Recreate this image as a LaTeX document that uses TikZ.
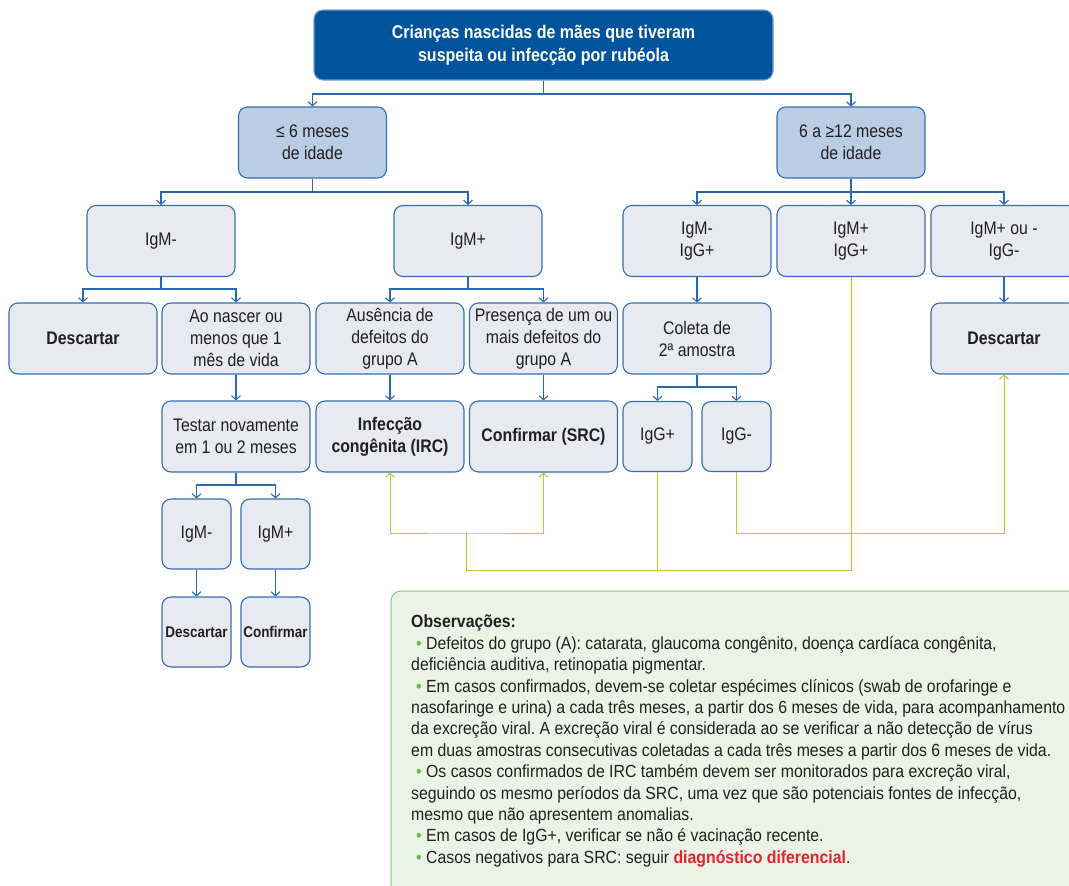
\documentclass[tikz,border=0pt]{standalone}
\usepackage{fontspec}
\setmainfont[FakeStretch=0.87]{Liberation Sans}
\newfontfamily\notefont[FakeStretch=0.9]{Liberation Sans}
\usetikzlibrary{arrows.meta}
\definecolor{topblue}{RGB}{0,84,158}
\definecolor{lvlblue}{RGB}{185,206,229}
\definecolor{boxgray}{RGB}{231,234,240}
\definecolor{edgeblue}{RGB}{52,110,178}
\definecolor{lineblue}{RGB}{40,105,175}
\definecolor{yel}{RGB}{212,190,40}
\definecolor{notefill}{RGB}{235,243,230}
\definecolor{noteedge}{RGB}{140,198,120}
\definecolor{txt}{RGB}{35,31,32}
\definecolor{bulgreen}{RGB}{100,185,70}
\definecolor{redtxt}{RGB}{228,35,45}
\frenchspacing
\begin{document}
\begin{tikzpicture}[x=1pt,y=-1pt,
  box/.style={draw=edgeblue, line width=1.1pt, fill=boxgray, rounded corners=9pt,
    minimum width=148pt, minimum height=71pt, align=center, inner sep=1pt,
    text=txt, font=\fontsize{18.2}{22}\selectfont},
  boldbox/.style={box, font=\fontsize{18.2}{22}\selectfont\bfseries},
  smallbox/.style={box, minimum width=69pt, minimum height=70pt},
  smallbold/.style={smallbox, font=\fontsize{15.5}{20}\selectfont\bfseries},
  lvlbox/.style={box, fill=lvlblue},
  topbox/.style={box, fill=topblue, draw=topblue!55!white, minimum width=459pt, minimum height=70pt,
    text=white, font=\fontsize{18.4}{22.5}\selectfont\bfseries},
  ln/.style={draw=lineblue, line width=1.1pt},
  conn/.style={ln, -{Straight Barb[length=4pt,width=9pt]}},
  yl/.style={draw=yel, line width=1pt},
  ytip/.style={yl, {Straight Barb[length=4pt,width=9pt]}-{Straight Barb[length=4pt,width=9pt]}},
  yend/.style={yl, -{Straight Barb[length=4pt,width=9pt]}}
]
\clip (0,0) rectangle (1069,886);
\fill[white] (0,0) rectangle (1069,886);

% nodes
\node[topbox] (top) at (543.5,45) {Crianças nascidas de mães que tiveram\\suspeita ou infecção por rubéola};
\node[lvlbox] (le6) at (312.5,142.5) {≤ 6 meses\\de idade};
\node[lvlbox] (ge12) at (851,142.5) {6 a ≥12 meses\\de idade};

\node[box] (IgMn) at (161,241) {IgM-};
\node[box] (IgMp) at (468,241) {IgM+};
\node[box] (IgMIgGp) at (697,241) {IgM-\\IgG+};
\node[box] (IgMpIgGp) at (851,241) {IgM+\\IgG+};
\node[box, minimum width=146pt] (IgMou) at (1004,241) {IgM+ ou -\\IgG-};

\node[boldbox] (Desc1) at (83,338.5) {Descartar};
\node[box] (Ao) at (236,338.5) {Ao nascer ou\\menos que 1\\mês de vida};
\node[box] (Aus) at (390,338.5) {Ausência de\\defeitos do\\grupo A};
\node[box] (Pres) at (543.5,338.5) {Presença de um ou\\mais defeitos do\\grupo A};
\node[box] (Coleta) at (697,338.5) {Coleta de\\2ª amostra};
\node[boldbox, minimum width=146pt] (Desc2) at (1004,338.5) {Descartar};

\node[box] (Testar) at (236,436.5) {Testar novamente\\em 1 ou 2 meses};
\node[boldbox] (Inf) at (390,436.5) {Infecção\\congênita (IRC)};
\node[boldbox] (Conf) at (543.5,436.5) {Confirmar (SRC)};
\node[smallbox] (IgGp) at (657.5,436.5) {IgG+};
\node[smallbox] (IgGn) at (736.5,436.5) {IgG-};

\node[smallbox] (sIgMn) at (196.5,534) {IgM-};
\node[smallbox] (sIgMp) at (275.5,534) {IgM+};
\node[smallbold] (sDesc) at (196.5,632) {Descartar};
\node[smallbold] (sConf) at (275.5,632) {Confirmar};

% junctions
\coordinate (jt) at (543.5,94);
\coordinate (j6) at (312.5,192);
\coordinate (j12) at (851,192);
\coordinate (jn) at (161,289);
\coordinate (jp) at (468,289);
\coordinate (jc) at (697,387);
\coordinate (jts) at (236,485);

% blue connectors
\draw[ln] (top.south) -- (jt);
\draw[conn] (jt) -| (le6.north);
\draw[conn] (jt) -| (ge12.north);
\draw[ln] (le6.south) -- (j6);
\draw[conn] (j6) -| (IgMn.north);
\draw[conn] (j6) -| (IgMp.north);
\draw[ln] (ge12.south) -- (j12);
\draw[conn] (j12) -| (IgMIgGp.north);
\draw[conn] (j12) -- (IgMpIgGp.north);
\draw[conn] (j12) -| (IgMou.north);
\draw[ln] (IgMn.south) -- (jn);
\draw[conn] (jn) -| (Desc1.north);
\draw[conn] (jn) -| (Ao.north);
\draw[ln] (IgMp.south) -- (jp);
\draw[conn] (jp) -| (Aus.north);
\draw[conn] (jp) -| (Pres.north);
\draw[conn] (IgMIgGp.south) -- (Coleta.north);
\draw[conn] (IgMou.south) -- (Desc2.north);
\draw[conn] (Ao.south) -- (Testar.north);
\draw[conn] (Aus.south) -- (Inf.north);
\draw[conn] (Pres.south) -- (Conf.north);
\draw[ln] (Coleta.south) -- (jc);
\draw[conn] (jc) -| (IgGp.north);
\draw[conn] (jc) -| (IgGn.north);
\draw[ln] (Testar.south) -- (jts);
\draw[conn] (jts) -| (sIgMn.north);
\draw[conn] (jts) -| (sIgMp.north);
\draw[conn] (sIgMn.south) -- (sDesc.north);
\draw[conn] (sIgMp.south) -- (sConf.north);

% yellow connectors
\coordinate (y1) at (466.5,533);
\coordinate (y2) at (466.5,570);
\draw[ytip] (Inf.south) |- (y1) -| (Conf.south);
\draw[yl] (y1) -- (y2) -| (IgMpIgGp.south);
\draw[yl] (IgGp.south) -- (IgGp.south |- y2);
\draw[yend] (IgGn.south) -- (IgGn.south |- y1) -| (Desc2.south);

% notes
\draw[draw=noteedge, fill=notefill, line width=1pt, rounded corners=10pt] (391,591) rectangle (1110,910);
\node[anchor=north west, align=left, inner sep=0pt, text=txt,
  font=\notefont\fontsize{17.6}{21.4}\selectfont] (notes) at (411,615) {%
\textbf{Observações:}\\
\hspace*{5pt}\textcolor{bulgreen}{•} Defeitos do grupo (A): catarata, glaucoma congênito, doença cardíaca congênita,\\
deficiência auditiva, retinopatia pigmentar.\\
\hspace*{5pt}\textcolor{bulgreen}{•} Em casos confirmados, devem-se coletar espécimes clínicos (swab de orofaringe e\\
nasofaringe e urina) a cada três meses, a partir dos 6 meses de vida, para acompanhamento\\
da excreção viral. A excreção viral é considerada ao se verificar a não detecção de vírus\\
em duas amostras consecutivas coletadas a cada três meses a partir dos 6 meses de vida.\\
\hspace*{5pt}\textcolor{bulgreen}{•} Os casos confirmados de IRC também devem ser monitorados para excreção viral,\\
seguindo os mesmo períodos da SRC, uma vez que são potenciais fontes de infecção,\\
mesmo que não apresentem anomalias.\\
\hspace*{5pt}\textcolor{bulgreen}{•} Em casos de IgG+, verificar se não é vacinação recente.\\
\hspace*{5pt}\textcolor{bulgreen}{•} Casos negativos para SRC: seguir \textcolor{redtxt}{\textbf{diagnóstico diferencial}}.};
\end{tikzpicture}
\end{document}
